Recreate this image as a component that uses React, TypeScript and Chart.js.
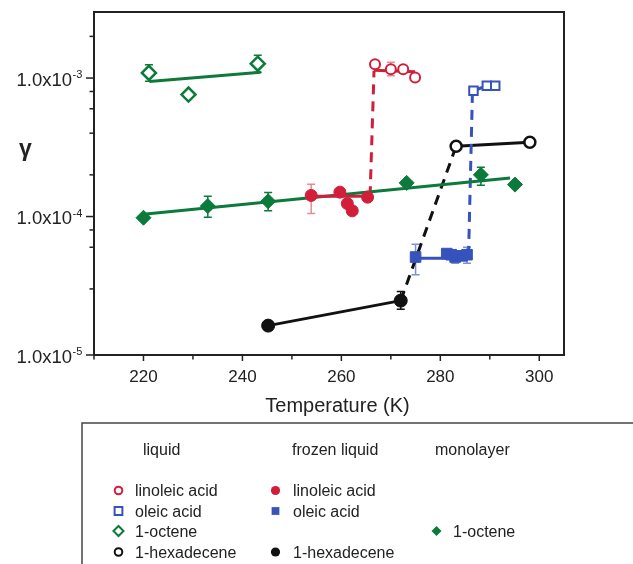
import React, { useEffect, useRef } from 'react';
import { Chart, registerables } from 'chart.js';

Chart.register(...registerables);

const FONT = '"Liberation Sans", Arial, Helvetica, sans-serif';

const RED = '#d11f3a';
const RED_LIGHT = '#e98a95';
const BLUE = '#3653bb';
const BLUE_LIGHT = '#7d90d6';
const GREEN = '#0b7a3b';
const BLACK = '#111111';

// axes
const xMin = 210;
const xMax = 305;
const xStep = 10;
const xTickLabels = [220, 240, 260, 280, 300];
const yMin = 1e-5;
const yMax = 3e-3;

// liquid linoleic acid (open red circles)
const liqLinoleicT = [266.8, 270.0, 272.5, 274.9];
const liqLinoleicG = [1.26e-3, 1.16e-3, 1.16e-3, 1.01e-3];
const liqLinoleicErr = [null, [1.04e-3, 1.3e-3], null, null];

// frozen linoleic acid (filled red circles)
const frzLinoleicT = [253.9, 259.7, 261.2, 262.2, 265.3];
const frzLinoleicG = [1.42e-4, 1.5e-4, 1.24e-4, 1.1e-4, 1.38e-4];
const frzLinoleicErr = [[1.05e-4, 1.71e-4], null, null, null, null];

// liquid oleic acid (open blue squares)
const liqOleicT = [286.7, 289.4, 291.1];
const liqOleicG = [8.1e-4, 8.8e-4, 8.8e-4];

// frozen oleic acid (filled blue squares)
const frzOleicT = [275.0, 281.3, 282.2, 283.0, 284.4, 285.4];
const frzOleicG = [5.1e-5, 5.4e-5, 5.3e-5, 5.1e-5, 5.2e-5, 5.3e-5];
const frzOleicErr = [[3.8e-5, 6.3e-5], null, null, [4.6e-5, 5.6e-5], null, [4.6e-5, 6.0e-5]];

// liquid 1-octene (open green diamonds)
const liqOcteneT = [221.1, 229.1, 243.1];
const liqOcteneG = [1.09e-3, 7.6e-4, 1.27e-3];
const liqOcteneErr = [[9.5e-4, 1.25e-3], null, [1.1e-3, 1.46e-3]];

// monolayer 1-octene (filled green diamonds)
const monoOcteneT = [220.0, 233.0, 245.2, 273.2, 288.2, 295.1];
const monoOcteneG = [9.8e-5, 1.19e-4, 1.29e-4, 1.75e-4, 2.0e-4, 1.7e-4];
const monoOcteneErr = [null, [9.9e-5, 1.4e-4], [1.1e-4, 1.49e-4], null, [1.68e-4, 2.27e-4], null];

// liquid 1-hexadecene (open black circles)
const liqHexT = [283.2, 298.1];
const liqHexG = [3.22e-4, 3.44e-4];

// frozen 1-hexadecene (filled black circles)
const frzHexT = [245.2, 272.0];
const frzHexG = [1.63e-5, 2.47e-5];
const frzHexErr = [[1.52e-5, 1.75e-5], [2.14e-5, 2.87e-5]];

// fit / connecting lines
const octeneLiqFitT = [221.2, 243.7];
const octeneLiqFitG = [9.45e-4, 1.1e-3];
const octeneMonoFitT = [220.0, 294.1];
const octeneMonoFitG = [1.04e-4, 1.9e-4];
const linoleicFrzFitT = [254.0, 265.8];
const linoleicFrzFitG = [1.4e-4, 1.4e-4];
const linoleicJumpT = [265.8, 266.6];
const linoleicJumpG = [1.4e-4, 1.13e-3];
const linoleicLiqFitT = [266.6, 274.9];
const linoleicLiqFitG = [1.14e-3, 1.11e-3];
const oleicFrzFitT = [275.0, 285.6];
const oleicFrzFitG = [5.0e-5, 5.0e-5];
const oleicJumpT = [285.7, 286.5];
const oleicJumpG = [5.2e-5, 8.0e-4];
const hexJumpT = [272.0, 283.2];
const hexJumpG = [2.47e-5, 3.22e-4];

// legend
const legendHeaders = ['liquid', 'frozen liquid', 'monolayer'];

type Series = {
  label: string;
  col: number;
  row: number;
  t: number[];
  g: number[];
  err: (number[] | null)[] | null;
  shape: 'circle' | 'rect' | 'rectRot';
  r: number;
  color: string;
  errColor: string;
  filled: boolean;
  bw: number;
};

const series: Series[] = [
  { label: 'linoleic acid', col: 0, row: 0, t: liqLinoleicT, g: liqLinoleicG, err: liqLinoleicErr, shape: 'circle', r: 5, color: RED, errColor: RED_LIGHT, filled: false, bw: 2 },
  { label: 'oleic acid', col: 0, row: 1, t: liqOleicT, g: liqOleicG, err: null, shape: 'rect', r: 6, color: BLUE, errColor: BLUE_LIGHT, filled: false, bw: 2 },
  { label: '1-octene', col: 0, row: 2, t: liqOcteneT, g: liqOcteneG, err: liqOcteneErr, shape: 'rectRot', r: 7, color: GREEN, errColor: GREEN, filled: false, bw: 2.5 },
  { label: '1-hexadecene', col: 0, row: 3, t: liqHexT, g: liqHexG, err: null, shape: 'circle', r: 5.5, color: BLACK, errColor: BLACK, filled: false, bw: 2.5 },
  { label: 'linoleic acid', col: 1, row: 0, t: frzLinoleicT, g: frzLinoleicG, err: frzLinoleicErr, shape: 'circle', r: 6, color: RED, errColor: RED_LIGHT, filled: true, bw: 1 },
  { label: 'oleic acid', col: 1, row: 1, t: frzOleicT, g: frzOleicG, err: frzOleicErr, shape: 'rect', r: 7.5, color: BLUE, errColor: BLUE_LIGHT, filled: true, bw: 1 },
  { label: '1-hexadecene', col: 1, row: 3, t: frzHexT, g: frzHexG, err: frzHexErr, shape: 'circle', r: 6.5, color: BLACK, errColor: BLACK, filled: true, bw: 1 },
  { label: '1-octene', col: 2, row: 2, t: monoOcteneT, g: monoOcteneG, err: monoOcteneErr, shape: 'rectRot', r: 7.5, color: GREEN, errColor: GREEN, filled: true, bw: 1 },
];

type LineDef = { t: number[]; g: number[]; color: string; dashed: boolean };
const lines: LineDef[] = [
  { t: octeneLiqFitT, g: octeneLiqFitG, color: GREEN, dashed: false },
  { t: linoleicFrzFitT, g: linoleicFrzFitG, color: RED, dashed: false },
  { t: octeneMonoFitT, g: octeneMonoFitG, color: GREEN, dashed: false },
  { t: linoleicJumpT, g: linoleicJumpG, color: RED, dashed: true },
  { t: linoleicLiqFitT, g: linoleicLiqFitG, color: RED, dashed: false },
  { t: oleicFrzFitT, g: oleicFrzFitG, color: BLUE, dashed: false },
  { t: oleicJumpT, g: oleicJumpG, color: BLUE, dashed: true },
  { t: liqOleicT, g: liqOleicG, color: BLUE, dashed: false },
  { t: frzHexT, g: frzHexG, color: BLACK, dashed: false },
  { t: hexJumpT, g: hexJumpG, color: BLACK, dashed: true },
  { t: liqHexT, g: liqHexG, color: BLACK, dashed: false },
];

const pts = (t: number[], g: number[]) => t.map((x, i) => ({ x, y: g[i] }));

function drawMarker(ctx: CanvasRenderingContext2D, shape: string, x: number, y: number, r: number, color: string, filled: boolean, bw: number) {
  ctx.beginPath();
  if (shape === 'circle') {
    ctx.arc(x, y, r, 0, Math.PI * 2);
  } else if (shape === 'rect') {
    const h = r * Math.SQRT1_2;
    ctx.rect(x - h, y - h, 2 * h, 2 * h);
  } else {
    ctx.moveTo(x - r, y);
    ctx.lineTo(x, y - r);
    ctx.lineTo(x + r, y);
    ctx.lineTo(x, y + r);
    ctx.closePath();
  }
  if (filled) {
    ctx.fillStyle = color;
    ctx.fill();
  } else {
    ctx.fillStyle = '#ffffff';
    ctx.fill();
    ctx.lineWidth = bw;
    ctx.strokeStyle = color;
    ctx.stroke();
  }
}

const errorBarPlugin = {
  id: 'errorBars',
  beforeDatasetsDraw(chart: any) {
    const { ctx, scales } = chart;
    const xs = scales.x;
    const ys = scales.y;
    ctx.save();
    series.forEach((s) => {
      if (!s.err) return;
      s.err.forEach((e, i) => {
        if (!e) return;
        const px = xs.getPixelForValue(s.t[i]);
        const y1 = ys.getPixelForValue(e[0]);
        const y2 = ys.getPixelForValue(e[1]);
        ctx.strokeStyle = s.errColor;
        ctx.lineWidth = 1.5;
        ctx.beginPath();
        ctx.moveTo(px, y1);
        ctx.lineTo(px, y2);
        ctx.moveTo(px - 4, y1);
        ctx.lineTo(px + 4, y1);
        ctx.moveTo(px - 4, y2);
        ctx.lineTo(px + 4, y2);
        ctx.stroke();
      });
    });
    ctx.restore();
  },
};

const decorPlugin = {
  id: 'decor',
  afterDraw(chart: any) {
    const { ctx, chartArea, scales } = chart;
    const xs = scales.x;
    const ys = scales.y;
    const { left, right, top, bottom } = chartArea;
    ctx.save();
    // frame
    ctx.strokeStyle = '#222';
    ctx.lineWidth = 2;
    ctx.strokeRect(left, top, right - left, bottom - top);
    // x ticks
    ctx.lineWidth = 1.5;
    xs.ticks.forEach((tk: any) => {
      const px = xs.getPixelForValue(tk.value);
      const len = tk.value % 20 === 0 ? 6 : 4.5;
      ctx.beginPath();
      ctx.moveTo(px, bottom);
      ctx.lineTo(px, bottom + len);
      ctx.stroke();
    });
    // y ticks and labels
    ys.ticks.forEach((tk: any) => {
      const py = ys.getPixelForValue(tk.value);
      const exp = Math.floor(Math.log10(tk.value) + 1e-9);
      const mant = Math.round(tk.value / Math.pow(10, exp));
      const major = mant === 1;
      ctx.lineWidth = 1.5;
      ctx.beginPath();
      ctx.moveTo(left, py);
      ctx.lineTo(left - (major ? 8 : 4.5), py);
      ctx.stroke();
      if (major) {
        ctx.fillStyle = '#222';
        ctx.font = `18.5px ${FONT}`;
        ctx.textAlign = 'right';
        ctx.textBaseline = 'alphabetic';
        ctx.fillText('1.0x10', 72, py + 7.5);
        ctx.font = `11px ${FONT}`;
        ctx.textAlign = 'left';
        ctx.fillText(String(exp), 72.5, py + 0);
      }
    });
    // axis titles
    ctx.fillStyle = '#222';
    ctx.font = `20px ${FONT}`;
    ctx.textAlign = 'center';
    ctx.textBaseline = 'alphabetic';
    ctx.fillText('Temperature (K)', 337.5, 411.5);
    ctx.font = `bold 23px ${FONT}`;
    ctx.fillText('γ', 25.5, 156);

    // legend box
    ctx.strokeStyle = '#444';
    ctx.lineWidth = 1.5;
    ctx.strokeRect(82, 423, 600, 200);
    const colMarkerX = [118.5, 275.5, 436.5];
    const colTextX = [135, 293, 453];
    const headerX = [143, 292, 435];
    const rowBase = [496, 516.5, 536.5, 557.5];
    ctx.fillStyle = '#222';
    ctx.font = `16px ${FONT}`;
    ctx.textAlign = 'left';
    legendHeaders.forEach((h, i) => ctx.fillText(h, headerX[i], 454.5));
    series.forEach((s) => {
      const by = rowBase[s.row];
      const my = by - 5.5;
      const mr = s.shape === 'rectRot' ? 5 : s.shape === 'rect' ? 5.5 : s.filled ? 4.6 : 3.8;
      drawMarker(ctx, s.shape, colMarkerX[s.col], my, mr, s.color, s.filled, 2);
      ctx.fillStyle = '#222';
      ctx.font = `16px ${FONT}`;
      ctx.textAlign = 'left';
      ctx.textBaseline = 'alphabetic';
      ctx.fillText(s.label, colTextX[s.col], by);
    });
    ctx.restore();
  },
};

export default function App() {
  const ref = useRef<HTMLCanvasElement | null>(null);
  useEffect(() => {
    if (!ref.current) return;
    const pointSets = series.map((s) => ({
      type: 'scatter' as const,
      label: `${legendHeaders[s.col]} ${s.label}`,
      data: pts(s.t, s.g),
      showLine: false,
      pointStyle: s.shape,
      pointRadius: s.r,
      pointHoverRadius: s.r,
      pointBorderWidth: s.bw,
      pointBorderColor: s.color,
      pointBackgroundColor: s.filled ? s.color : '#ffffff',
    }));
    const lineSets = lines.map((l) => ({
      type: 'line' as const,
      label: 'fit',
      data: pts(l.t, l.g),
      showLine: true,
      borderColor: l.color,
      borderWidth: 3,
      borderDash: l.dashed ? [10, 7] : [],
      pointRadius: 0,
      fill: false,
      tension: 0,
    }));
    const chart = new Chart(ref.current, {
      type: 'scatter',
      data: { datasets: [...pointSets, ...lineSets] as any },
      plugins: [errorBarPlugin, decorPlugin],
      options: {
        animation: false,
        responsive: false,
        devicePixelRatio: 1,
        layout: { padding: { left: 0, top: 12, right: 69, bottom: 0 } },
        plugins: { legend: { display: false }, tooltip: { enabled: false } },
        scales: {
          x: {
            type: 'linear',
            position: 'bottom',
            min: xMin,
            max: xMax,
            grid: { display: false, drawTicks: false },
            border: { display: false },
            ticks: {
              stepSize: xStep,
              includeBounds: false,
              autoSkip: false,
              maxRotation: 0,
              padding: 12,
              color: '#222',
              font: { family: FONT, size: 17 },
              callback: (v: any) => (xTickLabels.includes(Number(v)) ? String(v) : ''),
            },
            afterFit: (s: any) => {
              s.height = 209;
            },
          },
          y: {
            type: 'logarithmic',
            min: yMin,
            max: yMax,
            grid: { display: false, drawTicks: false },
            border: { display: false },
            ticks: { callback: () => '' },
            afterFit: (s: any) => {
              s.width = 94;
            },
          },
        },
      } as any,
    });
    return () => chart.destroy();
  }, []);
  return (
    <div style={{ position: 'absolute', left: 0, top: 0, width: 633, height: 564, background: '#fff' }}>
      <canvas ref={ref} width={633} height={564} />
    </div>
  );
}
